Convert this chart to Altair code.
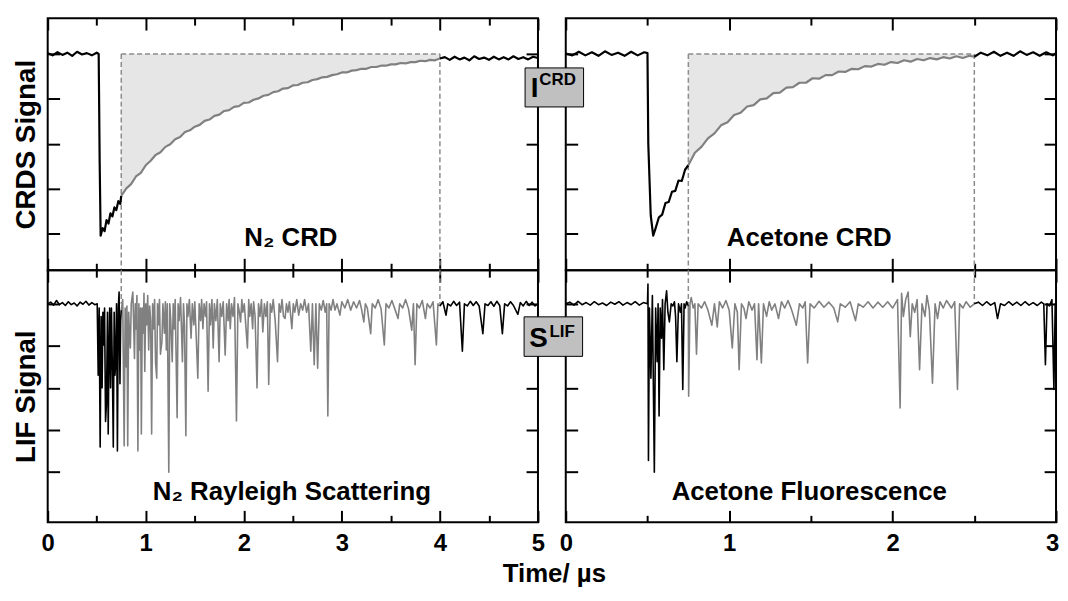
import altair as alt
import pandas as pd

FONT = "Liberation Sans"
BLACK = "#000000"
GRAY = "#808080"
FILL = "#e6e6e6"
DASH = "#8c8c8c"
BOXFILL = "#c0c0c0"

# ---------------- data ----------------
# CRDS signal, N2 (time in us, signal arb. units)
crd_n2 = [
    (0.00, 5.02), (0.05, 4.97), (0.10, 5.04), (0.15, 4.98), (0.20, 5.03), (0.25, 4.96), (0.30, 5.05),
    (0.35, 4.99), (0.40, 5.02), (0.45, 4.97), (0.50, 5.03), (0.52, 5.00),
    (0.53, 2.60), (0.54, 0.95),
    (0.56, 1.12), (0.58, 1.05), (0.60, 1.30), (0.62, 1.22), (0.64, 1.45), (0.66, 1.38), (0.68, 1.58),
    (0.70, 1.52), (0.72, 1.72), (0.74, 1.66), (0.75, 1.84),
    (0.80, 2.00), (0.85, 2.10), (0.90, 2.27), (0.95, 2.35), (1.00, 2.52), (1.05, 2.62), (1.10, 2.75),
    (1.15, 2.81), (1.20, 2.93), (1.25, 2.99), (1.30, 3.10), (1.35, 3.15), (1.40, 3.26), (1.45, 3.30),
    (1.50, 3.38), (1.55, 3.42), (1.60, 3.51), (1.65, 3.54), (1.70, 3.62), (1.75, 3.65), (1.80, 3.73),
    (1.85, 3.75), (1.90, 3.82), (1.95, 3.84), (2.00, 3.91), (2.05, 3.92), (2.10, 3.98), (2.15, 4.01),
    (2.20, 4.07), (2.25, 4.09), (2.30, 4.15), (2.35, 4.17), (2.40, 4.23), (2.45, 4.24), (2.50, 4.30),
    (2.55, 4.31), (2.60, 4.36), (2.65, 4.37), (2.70, 4.42), (2.75, 4.44), (2.80, 4.48), (2.85, 4.49),
    (2.90, 4.53), (2.95, 4.55), (3.00, 4.59), (3.05, 4.59), (3.10, 4.63), (3.15, 4.64), (3.20, 4.67),
    (3.25, 4.67), (3.30, 4.71), (3.35, 4.71), (3.40, 4.74), (3.45, 4.74), (3.50, 4.77), (3.55, 4.77),
    (3.60, 4.80), (3.65, 4.79), (3.70, 4.82), (3.75, 4.82), (3.80, 4.85), (3.85, 4.84), (3.90, 4.87),
    (3.95, 4.86), (4.00, 4.90),
    (4.05, 4.93), (4.10, 4.87), (4.15, 4.94), (4.20, 4.88), (4.25, 4.92), (4.30, 4.86), (4.35, 4.95),
    (4.40, 4.89), (4.45, 4.92), (4.50, 4.87), (4.55, 4.94), (4.60, 4.88), (4.65, 4.93), (4.70, 4.88),
    (4.75, 4.95), (4.80, 4.89), (4.85, 4.93), (4.90, 4.88), (4.95, 4.94), (5.00, 4.91),
]

# CRDS signal, acetone
crd_ace = [
    (0.00, 5.01), (0.04, 4.97), (0.08, 5.05), (0.12, 4.97), (0.16, 5.04), (0.20, 4.96), (0.24, 5.06),
    (0.28, 4.98), (0.32, 5.03), (0.36, 4.96), (0.40, 5.05), (0.44, 4.97), (0.48, 5.04), (0.50, 5.02),
    (0.505, 3.00), (0.52, 1.40), (0.535, 0.95),
    (0.55, 1.12), (0.57, 1.36), (0.59, 1.42), (0.61, 1.68), (0.63, 1.70), (0.65, 1.93), (0.67, 1.95),
    (0.69, 2.18), (0.71, 2.17), (0.73, 2.42), (0.75, 2.52),
    (0.79, 2.80), (0.83, 2.93), (0.87, 3.12), (0.91, 3.23), (0.95, 3.41), (0.99, 3.48), (1.03, 3.64),
    (1.07, 3.69), (1.11, 3.83), (1.15, 3.86), (1.19, 3.99), (1.23, 4.01), (1.27, 4.13), (1.31, 4.14),
    (1.35, 4.25), (1.39, 4.26), (1.43, 4.36), (1.47, 4.36), (1.51, 4.46), (1.55, 4.45), (1.59, 4.53),
    (1.63, 4.53), (1.67, 4.61), (1.71, 4.60), (1.75, 4.67), (1.79, 4.66), (1.83, 4.73), (1.87, 4.72),
    (1.91, 4.78), (1.95, 4.76), (1.99, 4.82), (2.03, 4.80), (2.07, 4.86), (2.11, 4.83), (2.15, 4.89),
    (2.19, 4.86), (2.23, 4.91), (2.27, 4.88), (2.31, 4.93), (2.35, 4.90), (2.39, 4.95), (2.43, 4.91),
    (2.47, 4.96), (2.50, 4.94),
    (2.54, 5.03), (2.58, 4.97), (2.62, 5.05), (2.66, 4.96), (2.70, 5.03), (2.74, 4.96), (2.78, 5.06),
    (2.82, 4.98), (2.86, 5.04), (2.90, 4.96), (2.94, 5.04), (2.98, 4.97), (3.00, 5.02),
]

# LIF signal, N2 Rayleigh scattering
lif_n2 = [
    (0.00, 5.00), (0.03, 5.04), (0.06, 4.97), (0.09, 5.08), (0.12, 4.98), (0.15, 5.03), (0.18, 4.96),
    (0.21, 5.05), (0.24, 4.98), (0.27, 5.02), (0.30, 4.95), (0.33, 5.04), (0.36, 4.99), (0.39, 5.06),
    (0.42, 4.97), (0.45, 5.03), (0.48, 4.98), (0.505, 5.00),
    (0.515, 3.30), (0.525, 4.90), (0.535, 1.59), (0.545, 4.70), (0.555, 3.00), (0.563, 4.80),
    (0.571, 4.02), (0.580, 4.90), (0.590, 2.20), (0.599, 2.60), (0.610, 4.80), (0.617, 1.90),
    (0.624, 3.62), (0.632, 4.90), (0.641, 3.00), (0.650, 4.90), (0.660, 3.40), (0.669, 1.59),
    (0.678, 4.80), (0.686, 3.30), (0.694, 3.62), (0.702, 5.00), (0.711, 1.50), (0.720, 4.90),
    (0.728, 5.28), (0.737, 3.10), (0.744, 4.60), (0.750, 4.85),
    (0.765, 5.10), (0.780, 1.62), (0.790, 4.90), (0.800, 3.50), (0.808, 4.95), (0.816, 1.62),
    (0.826, 4.80), (0.835, 4.20), (0.843, 3.95), (0.852, 5.00), (0.868, 5.28), (0.876, 4.60),
    (0.885, 3.70), (0.893, 5.00), (0.900, 4.40), (0.910, 5.20), (0.920, 1.50), (0.930, 5.00),
    (0.940, 3.90), (0.948, 4.90), (0.955, 1.90), (0.965, 4.90), (0.975, 4.30), (0.982, 5.25),
    (0.990, 3.39), (1.000, 5.00), (1.010, 4.50), (1.020, 5.20), (1.030, 3.90), (1.040, 4.95),
    (1.050, 4.60), (1.060, 1.90), (1.070, 5.00), (1.080, 4.40), (1.090, 5.10), (1.100, 3.60),
    (1.112, 3.23), (1.120, 5.00), (1.130, 4.50), (1.140, 5.10), (1.150, 3.80), (1.165, 4.10),
    (1.175, 5.00), (1.190, 4.30), (1.200, 5.05), (1.210, 3.90), (1.220, 5.00), (1.235, 0.99),
    (1.245, 5.00), (1.255, 4.60), (1.270, 3.62), (1.280, 5.00), (1.290, 4.40), (1.300, 5.10),
    (1.320, 2.29), (1.330, 5.00), (1.340, 4.60), (1.355, 5.15), (1.374, 3.62), (1.385, 5.00),
    (1.395, 4.50), (1.409, 1.86), (1.420, 5.00), (1.430, 4.70), (1.445, 5.10), (1.462, 4.18),
    (1.475, 5.00), (1.490, 4.50), (1.500, 5.05), (1.515, 4.20), (1.531, 3.23), (1.545, 5.00),
    (1.560, 4.60), (1.570, 5.10), (1.583, 4.41), (1.595, 5.00), (1.610, 4.70), (1.620, 5.05),
    (1.636, 2.92), (1.650, 5.00), (1.660, 4.50), (1.675, 5.10), (1.688, 3.95), (1.700, 5.00),
    (1.715, 4.60), (1.730, 5.10), (1.748, 3.62), (1.760, 5.00), (1.775, 4.70), (1.790, 5.05),
    (1.810, 3.78), (1.825, 5.00), (1.840, 4.60), (1.850, 5.10), (1.862, 4.41), (1.875, 5.00),
    (1.890, 4.70), (1.905, 5.15), (1.925, 2.21), (1.940, 5.00), (1.955, 4.80), (1.967, 4.57),
    (1.980, 5.10), (1.990, 4.80), (2.005, 5.00), (2.020, 4.50), (2.037, 3.95), (2.050, 5.10),
    (2.060, 4.70), (2.075, 5.00), (2.090, 4.41), (2.100, 5.05), (2.115, 4.70), (2.135, 3.00),
    (2.150, 5.00), (2.165, 4.70), (2.180, 5.10), (2.194, 4.33), (2.210, 5.00), (2.225, 4.70),
    (2.240, 5.05), (2.254, 3.08), (2.270, 5.00), (2.285, 4.80), (2.300, 5.10), (2.320, 4.60),
    (2.344, 3.62), (2.360, 5.00), (2.375, 4.80), (2.390, 5.10), (2.405, 4.70), (2.421, 4.65),
    (2.435, 5.00), (2.450, 4.80), (2.465, 5.05), (2.490, 4.41), (2.505, 5.00), (2.520, 4.80),
    (2.540, 5.10), (2.560, 4.73), (2.580, 5.00), (2.600, 4.85), (2.620, 5.10), (2.640, 4.80),
    (2.660, 5.00), (2.683, 3.87), (2.700, 5.00), (2.718, 3.55), (2.735, 5.00), (2.753, 3.47),
    (2.770, 5.00), (2.790, 4.85), (2.810, 5.08), (2.830, 4.80), (2.845, 5.00), (2.857, 2.33),
    (2.870, 5.00), (2.890, 4.85), (2.910, 5.10), (2.930, 4.85), (2.950, 5.00), (2.980, 4.73),
    (3.000, 5.05), (3.030, 4.90), (3.060, 5.10), (3.090, 4.85), (3.120, 5.05), (3.150, 4.90),
    (3.180, 5.08), (3.200, 4.88), (3.224, 4.57), (3.240, 5.00), (3.260, 4.90), (3.294, 4.29),
    (3.310, 5.00), (3.340, 4.90), (3.370, 5.10), (3.400, 4.88), (3.433, 4.02), (3.450, 5.00),
    (3.480, 4.90), (3.510, 5.08), (3.540, 4.88), (3.573, 4.65), (3.590, 5.00), (3.620, 4.90),
    (3.650, 5.10), (3.680, 4.88), (3.713, 4.37), (3.730, 5.00), (3.747, 3.55), (3.765, 5.00),
    (3.790, 4.90), (3.820, 5.08), (3.852, 4.65), (3.870, 5.00), (3.900, 4.90), (3.930, 5.05),
    (3.964, 4.02), (3.980, 5.00), (4.000, 4.95),
    (4.030, 5.05), (4.062, 4.73), (4.080, 5.00), (4.110, 4.95), (4.140, 5.06), (4.170, 4.96),
    (4.200, 5.04), (4.229, 3.87), (4.250, 5.00), (4.280, 4.95), (4.310, 5.06), (4.340, 4.96),
    (4.370, 5.05), (4.400, 4.95), (4.438, 4.29), (4.460, 5.00), (4.490, 4.96), (4.520, 5.05),
    (4.550, 4.94), (4.580, 5.06), (4.610, 4.96), (4.637, 4.29), (4.660, 5.00), (4.690, 4.95),
    (4.720, 5.05), (4.750, 4.96), (4.795, 4.75), (4.820, 5.03), (4.850, 4.95), (4.880, 5.06),
    (4.910, 4.96), (4.940, 5.04), (4.970, 4.95), (5.000, 5.00),
]

# LIF signal, acetone fluorescence
lif_ace = [
    (0.000, 5.00), (0.025, 5.04), (0.050, 4.97), (0.075, 5.06), (0.100, 4.98), (0.125, 5.03),
    (0.150, 4.97), (0.175, 5.05), (0.200, 4.98), (0.225, 5.02), (0.250, 4.96), (0.275, 5.04),
    (0.300, 4.99), (0.325, 5.05), (0.350, 4.97), (0.375, 5.03), (0.400, 4.98), (0.425, 5.05),
    (0.450, 4.97), (0.475, 5.03), (0.500, 5.00),
    (0.503, 5.47), (0.506, 1.27), (0.512, 4.90), (0.521, 3.23), (0.530, 5.20), (0.542, 0.99),
    (0.550, 4.90), (0.559, 3.62), (0.565, 5.00), (0.571, 2.33), (0.578, 4.90), (0.586, 4.18),
    (0.592, 5.10), (0.600, 3.43), (0.608, 5.00), (0.617, 5.31), (0.625, 4.80), (0.634, 4.57),
    (0.645, 5.00), (0.655, 4.95), (0.665, 5.05), (0.672, 4.70), (0.680, 3.62), (0.690, 5.00),
    (0.701, 4.80), (0.708, 5.00), (0.716, 2.96), (0.724, 5.00), (0.730, 4.90), (0.740, 5.05),
    (0.750, 4.95),
    (0.752, 2.80), (0.760, 5.00), (0.768, 5.15), (0.780, 4.90), (0.790, 5.00), (0.800, 3.80),
    (0.810, 5.00), (0.830, 4.90), (0.850, 5.05), (0.870, 4.85), (0.894, 4.49), (0.910, 5.00),
    (0.927, 4.45), (0.940, 5.05), (0.960, 4.90), (0.980, 5.08), (1.000, 4.85), (1.019, 3.95),
    (1.035, 5.00), (1.050, 4.80), (1.061, 3.43), (1.075, 5.00), (1.090, 4.90), (1.103, 4.65),
    (1.120, 5.05), (1.140, 4.85), (1.155, 5.00), (1.170, 3.67), (1.180, 5.00), (1.197, 3.59),
    (1.210, 5.00), (1.229, 4.70), (1.245, 5.05), (1.260, 4.85), (1.280, 5.00), (1.302, 4.65),
    (1.320, 5.05), (1.340, 4.90), (1.360, 5.08), (1.380, 4.88), (1.411, 4.49), (1.430, 5.00),
    (1.450, 4.90), (1.465, 5.05), (1.480, 3.59), (1.495, 5.00), (1.520, 4.90), (1.550, 5.06),
    (1.580, 4.92), (1.610, 5.04), (1.640, 4.90), (1.664, 4.57), (1.680, 5.00), (1.710, 4.92),
    (1.740, 5.05), (1.773, 4.60), (1.790, 5.00), (1.820, 4.92), (1.850, 5.05), (1.880, 4.90),
    (1.910, 5.04), (1.940, 4.92), (1.970, 5.05), (2.000, 4.90), (2.030, 5.10), (2.046, 2.52),
    (2.055, 5.25), (2.066, 4.70), (2.080, 5.10), (2.095, 5.28), (2.108, 4.22), (2.120, 5.00),
    (2.135, 4.80), (2.150, 5.10), (2.165, 3.43), (2.180, 5.00), (2.198, 4.70), (2.210, 5.20),
    (2.225, 4.85), (2.244, 3.11), (2.260, 5.00), (2.275, 4.65), (2.290, 5.05), (2.310, 4.90),
    (2.330, 5.08), (2.360, 4.90), (2.380, 5.05), (2.397, 2.96), (2.410, 5.00), (2.430, 4.90),
    (2.450, 5.05), (2.475, 4.92), (2.500, 5.00),
    (2.525, 5.04), (2.550, 4.96), (2.575, 5.05), (2.600, 4.97), (2.625, 5.03), (2.642, 4.65),
    (2.660, 5.00), (2.685, 4.96), (2.710, 5.05), (2.735, 4.97), (2.760, 5.04), (2.785, 4.96),
    (2.810, 5.05), (2.835, 4.97), (2.860, 5.03), (2.885, 4.96), (2.910, 5.04), (2.925, 5.00),
    (2.935, 3.55), (2.945, 5.00), (2.960, 4.95), (2.975, 5.10), (2.987, 2.96), (2.995, 5.00),
    (3.000, 2.96),
]

# integration windows (us) and the reference level of the CRD baseline
window_n2 = (0.75, 4.0)
window_ace = (0.75, 2.5)
crd_level = 5.0

# panel labels
label_texts = ["N\u2082 CRD", "Acetone CRD", "N\u2082 Rayleigh Scattering", "Acetone Fluorescence"]
label_t = [2.48, 1.49, 2.49, 1.49]
label_v = [0.71, 0.71, 0.32, 0.32]

# tick values
xmaj_left = [0, 1, 2, 3, 4, 5]
xmin_left = [0.5, 1.5, 2.5, 3.5, 4.5]
xmaj_right = [0, 1, 2, 3]
xmin_right = [0.5, 1.5, 2.5]
y_ticks = [1, 2, 3, 4, 5]

# ---------------- layout constants ----------------
W = 494
H = 254
XDOM_L = [0, 5]
XDOM_R = [0, 3]
YDOM_T = [0.18, 5.80]
YDOM_B = [-0.20, 5.80]

# annotation boxes (in the right panels' data coordinates)
box_crd = dict(x=-0.249, x2=0.109, y=4.69, y2=3.82)
box_lif = dict(x=-0.255, x2=0.103, y=4.69, y2=3.75)
big_crd = ("I", -0.191, 4.04)
sup_crd = ("CRD", -0.162, 4.30)
big_lif = ("S", -0.167, 3.98)
sup_lif = ("LIF", -0.100, 4.22)


def seg_frame(pairs, w0, w1):
    rows = []
    for ti, vi in pairs:
        if ti <= w0:
            rows.append((ti, vi, "pre"))
        if w0 <= ti <= w1:
            rows.append((ti, vi, "win"))
        if ti >= w1:
            rows.append((ti, vi, "post"))
    return pd.DataFrame(rows, columns=["t", "v", "seg"])


def axis(orient, values, size, **kw):
    o = dict(orient=orient, values=values, tickSize=size, offset=-size, domain=False, grid=False,
             labels=False, ticks=True, tickColor=BLACK, tickWidth=2, title=None)
    o.update(kw)
    return alt.Axis(**o)


def carriers(xs, ys, xdom, ydom, xmaj, xmin, xlab=None, ylab=None):
    d = pd.DataFrame({"t": [xdom[0]], "v": [ydom[0]]})
    base = alt.Chart(d).mark_point(opacity=0)
    xb = dict(xlab or {})
    yl = dict(ylab or {})
    return [
        base.encode(x=alt.X("t:Q", scale=xs, axis=axis("bottom", xmaj, 12, **xb)),
                    y=alt.Y("v:Q", scale=ys, axis=axis("left", y_ticks, 12, **yl))),
        base.encode(x=alt.X("t:Q", scale=xs, axis=axis("top", xmaj, 12)),
                    y=alt.Y("v:Q", scale=ys, axis=axis("right", y_ticks, 12))),
        base.encode(x=alt.X("t:Q", scale=xs, axis=axis("bottom", xmin, 7)),
                    y=alt.Y("v:Q", scale=ys, axis=None)),
        base.encode(x=alt.X("t:Q", scale=xs, axis=axis("top", xmin, 7)),
                    y=alt.Y("v:Q", scale=ys, axis=None)),
    ]


seg_color = alt.Color("seg:N", scale=alt.Scale(domain=["pre", "win", "post"], range=[BLACK, GRAY, BLACK]),
                      legend=None)

label_opts = dict(labels=True, labelFont=FONT, labelFontSize=24, labelFontWeight="bold", labelColor=BLACK,
                  labelPadding=9, labelFlush=False, labelOverlap=False, format="d")
ytitle_opts = dict(titleFont=FONT, titleFontSize=28, titleFontWeight="bold", titleColor=BLACK, titlePadding=6)


def panel(pairs, window, xdom, ydom, xmaj, xmin, top, idx, xlab=None, ylab=None, box=None):
    xs = alt.Scale(domain=xdom, nice=False, zero=False)
    ys = alt.Scale(domain=ydom, nice=False, zero=False)
    w0, w1 = window
    df = seg_frame(pairs, w0, w1)
    X = alt.X("t:Q", scale=xs, axis=None)
    Y = alt.Y("v:Q", scale=ys, axis=None)
    layers = []
    if top:
        win = df[df.seg == "win"].assign(top=crd_level)
        layers.append(alt.Chart(win).mark_area(color=FILL).encode(x=X, y=Y, y2="top:Q"))
        dv = pd.DataFrame({"t": [w0, w1], "v": [crd_level, crd_level], "v2": [ydom[0], ydom[0]]})
        dh = pd.DataFrame({"t": [w0], "t2": [w1], "v": [crd_level]})
        layers.append(alt.Chart(dh).mark_rule(color=DASH, strokeWidth=1.5, strokeDash=[5, 3])
                      .encode(x=X, x2="t2:Q", y=Y))
    else:
        dv = pd.DataFrame({"t": [w0, w1], "v": [ydom[1], ydom[1]], "v2": [crd_level, crd_level]})
    layers.append(alt.Chart(dv).mark_rule(color=DASH, strokeWidth=1.5, strokeDash=[5, 3])
                  .encode(x=X, y=Y, y2="v2:Q"))
    sw = 2.2 if top else 1.6
    layers.append(alt.Chart(df).mark_line(strokeWidth=sw, strokeJoin="round")
                  .encode(x=X, y=Y, color=seg_color))
    lab = pd.DataFrame({"t": [label_t[idx]], "v": [label_v[idx]], "label": [label_texts[idx]]})
    layers.append(alt.Chart(lab).mark_text(font=FONT, fontSize=26, fontWeight="bold", align="center",
                                           baseline="alphabetic", color=BLACK)
                  .encode(x=X, y=Y, text="label:N"))
    if box is not None:
        rect, big, sup = box
        rd = pd.DataFrame([rect])
        layers.append(alt.Chart(rd).mark_rect(fill=BOXFILL, stroke=BLACK, strokeWidth=1)
                      .encode(x=alt.X("x:Q", scale=xs, axis=None), x2="x2:Q",
                              y=alt.Y("y:Q", scale=ys, axis=None), y2="y2:Q"))
        bd = pd.DataFrame({"t": [big[1]], "v": [big[2]], "label": [big[0]]})
        layers.append(alt.Chart(bd).mark_text(font=FONT, fontSize=28, fontWeight="bold", align="center",
                                              baseline="alphabetic", color=BLACK)
                      .encode(x=X, y=Y, text="label:N"))
        sd = pd.DataFrame({"t": [sup[1]], "v": [sup[2]], "label": [sup[0]]})
        layers.append(alt.Chart(sd).mark_text(font=FONT, fontSize=17, fontWeight="bold", align="left",
                                              baseline="alphabetic", color=BLACK)
                      .encode(x=X, y=Y, text="label:N"))
    layers += carriers(xs, ys, xdom, ydom, xmaj, xmin, xlab, ylab)
    return (alt.layer(*layers)
            .resolve_axis(x="independent", y="independent")
            .properties(width=W, height=H))


xtitle_opts = dict(label_opts)
xtitle_opts.update(title="Time/ \u00b5s", titleFont=FONT, titleFontSize=26, titleFontWeight="bold",
                   titleColor=BLACK, titleX=510, titleY=72, titleAlign="center", titleBaseline="alphabetic")
right_label_opts = dict(label_opts)
right_label_opts.update(labelOffset={"condition": {"test": "datum.value == 3", "value": -4}, "value": 0})

TL = panel(crd_n2, window_n2, XDOM_L, YDOM_T, xmaj_left, xmin_left, True, 0,
           ylab=dict(ytitle_opts, title="CRDS Signal"))
TR = panel(crd_ace, window_ace, XDOM_R, YDOM_T, xmaj_right, xmin_right, True, 1,
           box=(box_crd, big_crd, sup_crd))
BL = panel(lif_n2, window_n2, XDOM_L, YDOM_B, xmaj_left, xmin_left, False, 2,
           xlab=xtitle_opts, ylab=dict(ytitle_opts, title="LIF Signal"))
BR = panel(lif_ace, window_ace, XDOM_R, YDOM_B, xmaj_right, xmin_right, False, 3,
           xlab=right_label_opts, box=(box_lif, big_lif, sup_lif))

chart = (alt.concat(TL, TR, BL, BR, columns=2, spacing={"row": 0, "column": 28}, bounds="flush")
         .properties(padding={"left": 4, "top": 6, "right": 0, "bottom": 0})
         .configure_view(stroke=BLACK, strokeWidth=2))

chart.save("out.html", embed_options={"renderer": "svg", "actions": False})
